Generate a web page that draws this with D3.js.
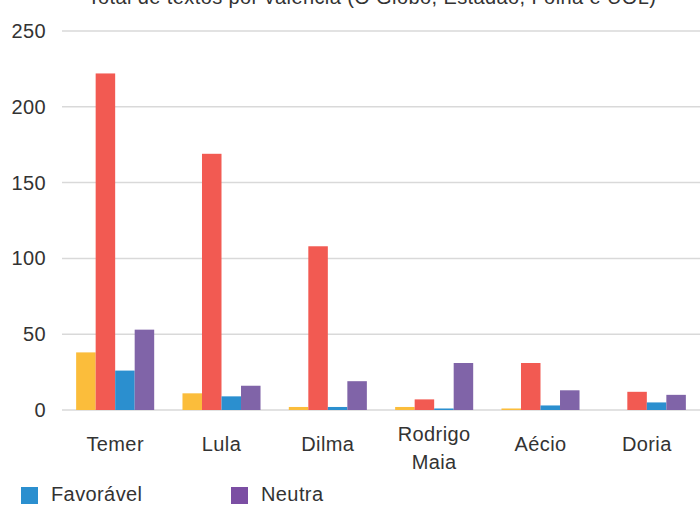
<!DOCTYPE html>
<html><head><meta charset="utf-8">
<script src="https://cdn.jsdelivr.net/npm/d3@7"></script>
<style>body{margin:0;background:#fff}svg{display:block}text{font-family:"Liberation Sans",Arial,sans-serif;letter-spacing:0.4px}</style>
</head><body><svg id="c" width="700" height="505"></svg>
<script>
const title = "Total de textos por valência (O Globo, Estadão, Folha e UOL)";
const categories = ["Temer", "Lula", "Dilma", "Rodrigo Maia", "Aécio", "Doria"];
const seriesNames = ["Ambígua", "Desfavorável", "Favorável", "Neutra"];
const ambigua = [38, 11, 2, 2, 1, 0];
const desfavoravel = [222, 169, 108, 7, 31, 12];
const favoravel = [26, 9, 2, 1, 3, 5];
const neutra = [53, 16, 19, 31, 13, 10];
const yTicks = [0, 50, 100, 150, 200, 250];
const legendItems = ["Favorável", "Neutra"];

const colors = {"Ambígua":"#fbbd3b","Desfavorável":"#f25a52","Favorável":"#2b8fcf","Neutra":"#8064a8"};
const legendColors = {"Favorável":"#2b8fcf","Neutra":"#7b4ea3"};
const seriesVals = [ambigua, desfavoravel, favoravel, neutra];
const FS = 20;

const svg = d3.select("#c");
const x0 = d3.scaleBand().domain(categories).range([62, 700]).paddingInner(0.266).paddingOuter(0.133);
const x1 = d3.scaleBand().domain(seriesNames).range([0, x0.bandwidth()]);
const y = d3.scaleLinear().domain([0, 250]).range([410, 31]);

svg.append("text").attr("x", 372).attr("y", 4).attr("text-anchor", "middle")
  .attr("font-size", FS).attr("fill", "#333").text(title);

const gy = svg.append("g");
gy.selectAll("line").data(yTicks).join("line")
  .attr("x1", 62).attr("x2", 700).attr("y1", d => y(d)).attr("y2", d => y(d))
  .attr("stroke", "#d9d9d9").attr("stroke-width", 1.5);
gy.selectAll("text").data(yTicks).join("text")
  .attr("x", 46).attr("y", d => y(d)).attr("dy", "0.35em").attr("text-anchor", "end")
  .attr("font-size", FS).attr("fill", "#333").text(d => d);

const data = [];
categories.forEach((c, i) => seriesNames.forEach((s, j) => data.push({c, s, v: seriesVals[j][i]})));
svg.append("g").selectAll("rect").data(data.filter(d => d.v > 0)).join("rect")
  .attr("x", d => x0(d.c) + x1(d.s)).attr("width", x1.bandwidth())
  .attr("y", d => y(d.v)).attr("height", d => y(0) - y(d.v))
  .attr("fill", d => colors[d.s]);

const gx = svg.append("g");
categories.forEach(c => {
  const words = c.split(" ");
  const cx = x0(c) + x0.bandwidth() / 2;
  const t = gx.append("text").attr("text-anchor", "middle").attr("font-size", FS).attr("fill", "#333");
  if (words.length === 1) {
    t.attr("x", cx).attr("y", 451).text(c);
  } else {
    words.forEach((w, k) => t.append("tspan").attr("x", cx).attr("y", 441 + k * 28).text(w));
  }
});

const lg = svg.append("g");
legendItems.forEach((name, i) => {
  const lx = 21 + i * 210;
  lg.append("rect").attr("x", lx).attr("y", 487).attr("width", 17).attr("height", 17).attr("fill", legendColors[name]);
  lg.append("text").attr("x", lx + 30).attr("y", 501).attr("font-size", FS).attr("fill", "#333").text(name);
});
</script></body></html>
